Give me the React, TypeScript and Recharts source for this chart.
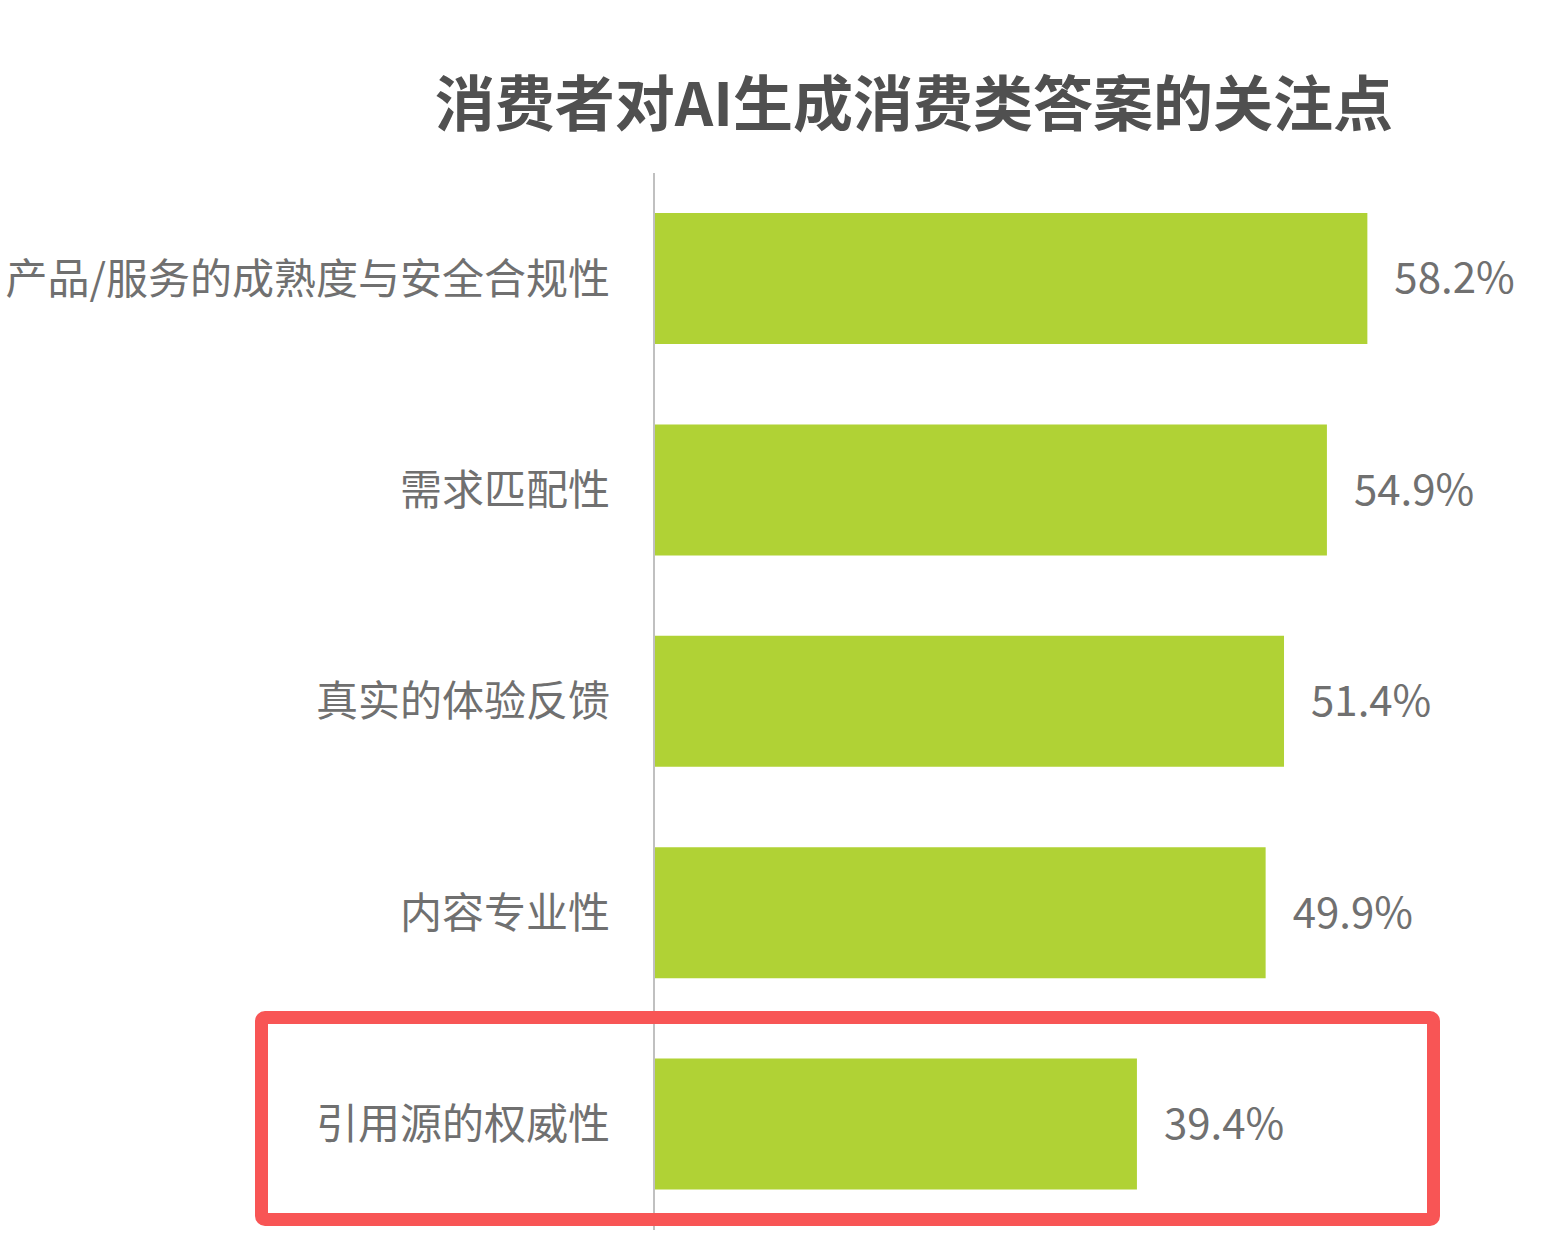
import { BarChart, Bar, XAxis, YAxis, LabelList } from "recharts";

const categories = [
  "产品/服务的成熟度与安全合规性",
  "需求匹配性",
  "真实的体验反馈",
  "内容专业性",
  "引用源的权威性",
];
const values = [58.2, 54.9, 51.4, 49.9, 39.4];

const TITLE = "消费者对AI生成消费类答案的关注点";
const FONT = '"Noto Sans CJK SC", "Noto Sans", sans-serif';
const BAR_COLOR = "#b0d235";
const TEXT_GRAY = "#707070";

const data = categories.map((name, i) => ({ name, value: values[i] }));

export default function App() {
  return (
    <div style={{ position: "absolute", left: 0, top: 0, width: 1550, height: 1252, background: "#fff", fontFamily: FONT }}>
      <div
        style={{
          position: "absolute",
          left: 0,
          width: 1828,
          top: 60,
          textAlign: "center",
          fontSize: 60,
          fontWeight: 700,
          color: "#505050",
          lineHeight: "80px",
          whiteSpace: "nowrap",
        }}
      >
        {TITLE}
      </div>
      <div style={{ position: "absolute", left: 0, top: 0 }}>
        <BarChart
          width={1550}
          height={1252}
          data={data}
          layout="vertical"
          margin={{ top: 173, right: 38, left: 0, bottom: 22 }}
          barSize={131}
        >
          <XAxis type="number" domain={[0, 70]} hide />
          <YAxis
            type="category"
            dataKey="name"
            width={654}
            axisLine={{ stroke: "#c0c0c0", strokeWidth: 2 }}
            tickLine={false}
            tickSize={0}
            tickMargin={44}
            tick={{ fill: TEXT_GRAY, fontSize: 42, fontFamily: FONT }}
            interval={0}
          />
          <Bar dataKey="value" fill={BAR_COLOR} isAnimationActive={false}>
            <LabelList
              dataKey="value"
              position="right"
              offset={27}
              fill={TEXT_GRAY}
              fontSize={42}
              fontFamily={FONT}
              formatter={(v: number) => `${v.toFixed(1)}%`}
            />
          </Bar>
        </BarChart>
      </div>
      <div
        style={{
          position: "absolute",
          left: 255,
          top: 1011,
          width: 1185,
          height: 215,
          boxSizing: "border-box",
          border: "13px solid #f85555",
          borderRadius: 10,
          pointerEvents: "none",
        }}
      />
    </div>
  );
}
